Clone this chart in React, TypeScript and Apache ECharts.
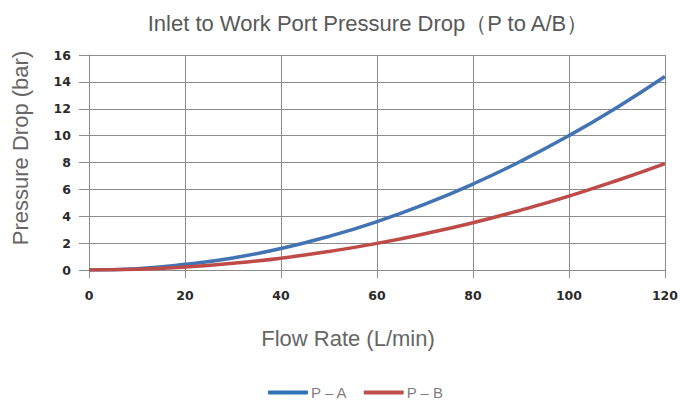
import React, { useEffect, useRef } from "react";
import * as echarts from "echarts";

const flowRate = [0, 10, 20, 30, 40, 50, 60, 70, 80, 90, 100, 110, 120];
const pA = [0, 0.1, 0.42, 0.9, 1.6, 2.5, 3.6, 4.9, 6.4, 8.1, 10, 12.1, 14.4];
const pB = [0, 0.05, 0.22, 0.5, 0.88, 1.38, 1.98, 2.7, 3.52, 4.46, 5.5, 6.66, 7.92];
const seriesNames = ["P – A", "P – B"];
const titleText = "Inlet to Work Port Pressure Drop（P to A/B）";
const xName = "Flow Rate (L/min)";
const yName = "Pressure Drop (bar)";

export default function App() {
  const ref = useRef<HTMLDivElement>(null);
  useEffect(() => {
    const chart = echarts.init(ref.current!, null, { renderer: "svg" });
    const thin = "Liberation Sans";
    chart.setOption({
      animation: false,
      backgroundColor: "#ffffff",
      graphic: [
        {
          type: "text",
          x: 368,
          y: 23,
          style: {
            text: titleText,
            fontFamily: thin,
            fontSize: 22,
            fill: "#595959",
            textAlign: "center",
            textVerticalAlign: "middle",
          },
        },
        {
          type: "text",
          x: 348,
          y: 338,
          style: {
            text: xName,
            fontFamily: thin,
            fontSize: 22,
            fill: "#666666",
            textAlign: "center",
            textVerticalAlign: "middle",
          },
        },
        {
          type: "text",
          x: 20,
          y: 148,
          rotation: Math.PI / 2,
          style: {
            text: yName,
            fontFamily: thin,
            fontSize: 22,
            fill: "#666666",
            textAlign: "center",
            textVerticalAlign: "middle",
          },
        },
      ],
      legend: {
        top: 380,
        left: 263,
        itemWidth: 40,
        itemHeight: 4,
        itemGap: 16,
        icon: "roundRect",
        textStyle: { fontFamily: thin, fontSize: 15, color: "#7f7f7f", padding: [0, 0, 0, -2] },
        data: seriesNames,
      },
      grid: { left: 89, right: 14, top: 55, bottom: 131, containLabel: false },
      xAxis: {
        type: "value",
        min: 0,
        max: 120,
        interval: 20,
        axisLine: { show: true, lineStyle: { color: "#8c8c8c", width: 1 } },
        axisTick: { show: true, length: 8, lineStyle: { color: "#8c8c8c" } },
        axisLabel: { fontFamily: "DejaVu Sans", fontWeight: "bold", fontSize: 12.5, color: "#2a2a2a", margin: 19 },
        splitLine: { show: true, lineStyle: { color: "#8c8c8c", width: 1 } },
      },
      yAxis: {
        type: "value",
        min: 0,
        max: 16,
        interval: 2,
        axisLine: { show: true, lineStyle: { color: "#8c8c8c", width: 1 } },
        axisTick: { show: true, length: 10, lineStyle: { color: "#8c8c8c" } },
        axisLabel: { fontFamily: "DejaVu Sans", fontWeight: "bold", fontSize: 12.5, color: "#2a2a2a", margin: 18 },
        splitLine: { show: true, lineStyle: { color: "#8c8c8c", width: 1 } },
      },
      series: [
        {
          name: seriesNames[0],
          type: "line",
          smooth: true,
          showSymbol: false,
          data: flowRate.map((x, i) => [x, pA[i]]),
          lineStyle: { color: "#4273b3", width: 3.5 },
          itemStyle: { color: "#2e75b6" },
        },
        {
          name: seriesNames[1],
          type: "line",
          smooth: true,
          showSymbol: false,
          data: flowRate.map((x, i) => [x, pB[i]]),
          lineStyle: { color: "#be4b48", width: 3.5 },
          itemStyle: { color: "#c0504d" },
        },
      ],
    });
    return () => chart.dispose();
  }, []);
  return <div ref={ref} style={{ width: 681, height: 401, position: "absolute", left: 0, top: 0 }} />;
}
